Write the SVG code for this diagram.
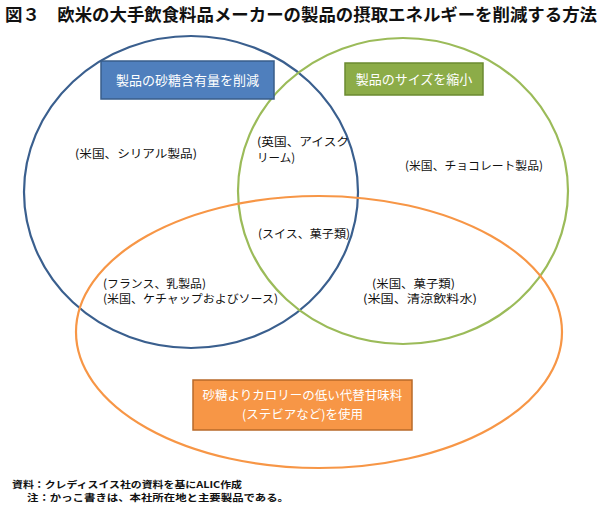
<svg xmlns="http://www.w3.org/2000/svg" width="600" height="506" viewBox="0 0 600 506">
<style>
.t{font-family:"Noto Sans CJK JP","Noto Sans CJK SC",sans-serif;}
.title{font-size:17px;font-weight:bold;fill:#111;}
.lab{font-size:11.5px;fill:#111;}
.box{font-size:13px;fill:#fff;}
.box2{font-size:12.5px;fill:#fff;}
.note{font-size:9.5px;font-weight:bold;fill:#111;}
.ring{fill:none;stroke-width:2.2;}
</style>
<rect width="600" height="506" fill="#fff"/>
<text class="t title" x="5" y="21" textLength="592" lengthAdjust="spacingAndGlyphs">図３　欧米の大手飲食料品メーカーの製品の摂取エネルギーを削減する方法</text>
<g id="connectors">
<ellipse id="ring-blue" class="ring" cx="191" cy="192" rx="167" ry="156" stroke="#3a5f8e"/>
<ellipse id="ring-green" class="ring" cx="403" cy="191" rx="165" ry="153" stroke="#9bbb59"/>
<ellipse id="ring-orange" class="ring" cx="319" cy="332" rx="243" ry="136" stroke="#f79646"/>
</g>
<g id="box-blue">
<rect x="101" y="61" width="173" height="38" fill="#4f7fbd" stroke="#385d8a" stroke-width="1.5"/>
<text class="t box" x="187.5" y="85" text-anchor="middle">製品の砂糖含有量を削減</text>
</g>
<g id="box-green">
<rect x="345" y="63" width="138" height="32" fill="#8cac48" stroke="#6b8a30" stroke-width="1.5"/>
<text class="t box" x="414" y="84" text-anchor="middle">製品のサイズを縮小</text>
</g>
<g id="box-orange">
<rect x="193" y="380" width="219" height="50" fill="#f79646" stroke="#b86a2a" stroke-width="1.5"/>
<text class="t box2" x="302.5" y="400" text-anchor="middle">砂糖よりカロリーの低い代替甘味料</text>
<text class="t box2" x="302.5" y="419" text-anchor="middle">(ステビアなど)を使用</text>
</g>
<g id="label-cereal"><text class="t lab" x="75" y="158" textLength="122" lengthAdjust="spacingAndGlyphs">(米国、シリアル製品)</text></g>
<g id="label-icecream">
<text class="t lab" x="257" y="146" textLength="92" lengthAdjust="spacingAndGlyphs">(英国、アイスク</text>
<text class="t lab" x="257" y="162">リーム)</text>
</g>
<g id="label-choco"><text class="t lab" x="405" y="170" textLength="138" lengthAdjust="spacingAndGlyphs">(米国、チョコレート製品)</text></g>
<g id="label-swiss"><text class="t lab" x="258" y="238" textLength="92" lengthAdjust="spacingAndGlyphs">(スイス、菓子類)</text></g>
<g id="label-france">
<text class="t lab" x="103" y="288" textLength="103" lengthAdjust="spacingAndGlyphs">(フランス、乳製品)</text>
<text class="t lab" x="103" y="303" textLength="175" lengthAdjust="spacingAndGlyphs">(米国、ケチャップおよびソース)</text>
</g>
<g id="label-us">
<text class="t lab" x="372" y="288" textLength="83" lengthAdjust="spacingAndGlyphs">(米国、菓子類)</text>
<text class="t lab" x="363" y="303" textLength="114" lengthAdjust="spacingAndGlyphs">(米国、清涼飲料水)</text>
</g>
<text class="t note" x="12" y="488" textLength="230" lengthAdjust="spacingAndGlyphs">資料：クレディスイス社の資料を基にALIC作成</text>
<text class="t note" x="27" y="501" textLength="262" lengthAdjust="spacingAndGlyphs">注：かっこ書きは、本社所在地と主要製品である。</text>
</svg>
